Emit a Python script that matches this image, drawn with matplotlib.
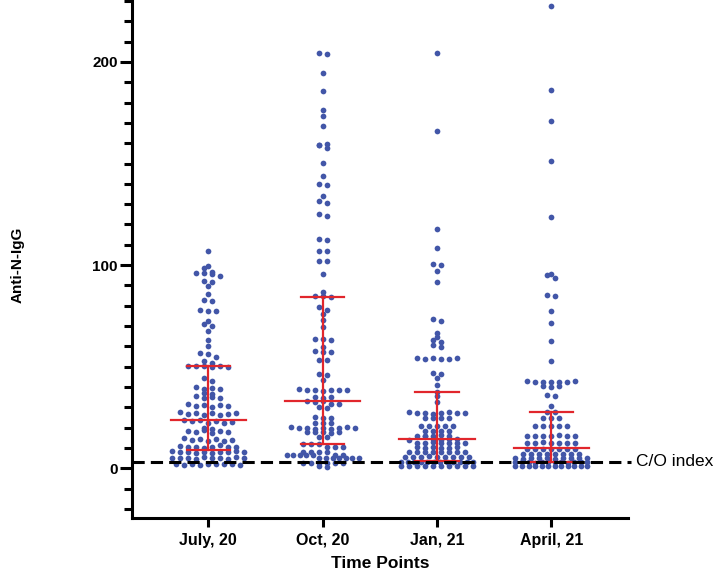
import numpy as np
import matplotlib
matplotlib.use("Agg")
import matplotlib.pyplot as plt
import matplotlib.transforms as mtransforms
from matplotlib.ticker import MultipleLocator, FixedLocator, NullLocator

plt.rcParams['font.family'] = ['Liberation Sans', 'DejaVu Sans']

# time points
groups = ['July, 20', 'Oct, 20', 'Jan, 21', 'April, 21']

# Anti-N-IgG values
july = [107, 99.8, 98.5, 96.8, 96.2, 95.9, 95.4, 94.6, 92.4, 91.6, 89.5, 86,
        82.6, 82.2, 78, 77.6, 77.2, 72.5, 71, 69.8, 67.8, 63.2, 60, 56.6, 56,
        55, 52.6, 51.8,
        50.4, 50.1, 50.3, 49.8, 50.2, 50.0,
        44.3, 43,
        39.8, 39.2, 39.5, 38.8, 37,
        35.5, 34.8, 35.2, 34.5, 36.5,
        31.5, 30.8, 31.2, 30.2, 31, 30.5,
        27.6, 26.5, 27.2, 26.3, 27, 26, 26.8, 27.4,
        23.9, 23.1, 23.6, 22.5, 23.4, 22.2, 22.8,
        19.6, 18.5, 19.2, 17.9, 18.8, 17.3, 18.2, 17.6,
        14.8, 13.8, 14.5, 13.2, 14.2, 13.5, 14,
        10.9, 10.3, 10.7, 10.1, 10.5, 11.2, 10.6, 10.4,
        8.3, 7.9, 8.2, 7.7, 8.1, 7.6, 8, 7.8, 8.4, 8.0,
        5.2, 4.8, 5.0, 4.6, 5.3, 4.9, 5.1, 4.7, 5.4, 5.0,
        2.1, 1.8, 2.3, 1.7, 2.0, 2.2, 1.9, 2.1, 1.8]

october = [204.4, 204.0, 194.5, 185.5, 176.3, 173.2, 168.5, 159.2, 159, 159.4,
           157.4, 150.2, 144.1, 139.8, 139.4, 133.8, 131.6, 130.5, 125, 124.3,
           112.8, 112.4, 107.1, 106.7, 102.2, 101.8, 95.7, 87, 84.9, 84.7, 84.5,
           79.5, 78, 76, 73.2, 69.6, 63.7, 63.5, 63.3, 59.7, 57.5, 57.3, 57.1,
           53.5, 53.1, 46.4, 46, 43.2,
           38.9, 38.3, 38.7, 38.1, 38.5, 38.6, 38.4,
           35.2, 34.8, 35,
           33.2, 32.8, 33,
           31.8, 31.6,
           30, 29.8,
           25, 24.6, 24.8,
           22.5, 22.1, 22.3,
           20.2, 19.7, 20, 19.5, 19.9, 19.4, 19.8, 20.1, 19.6,
           17.9, 17.6, 17.8, 17.5, 17.7,
           15.5, 15.3,
           12.1, 11.9, 12,
           10.7, 10.5, 10.6,
           8.2, 7.9, 8.1, 8,
           6.6, 6.4, 6.5, 6.6, 6.5, 6.4, 6.5,
           5, 4.8, 4.9, 5, 4.8, 4.9, 4.9,
           2.7, 2.5, 2.6, 2.7, 2.6, 2.5,
           0.9, 0.7]

january = [204.6, 166.2, 118, 108.2, 100.6, 100.2, 97.3, 91.6, 73.5, 72.5,
           66.6, 64.7, 63, 62, 60.7, 59.7,
           54.3, 53.9, 54.1, 53.8, 54, 54.2,
           47, 46.5, 44.5,
           41, 37.7, 35.5, 32.6,
           27.5, 27.1, 27.3, 26.9, 27.2, 27.6, 27, 27.4,
           24.8, 24.5, 24.7, 24.6,
           21, 20.7, 20.9, 20.6, 20.8,
           18.3, 18.1, 18.4, 18.2,
           16.1, 15.8, 16, 15.7, 16.2, 15.9,
           14.3, 14.1, 14.4, 14.2, 14.0,
           12.6, 12.4, 12.7, 12.3, 12.5, 12.6, 12.5,
           10.3, 10.1, 10.4, 10.2, 10.0, 10.3,
           8.2, 7.9, 8.1, 7.8, 8, 8.1, 8.2, 8,
           5.7, 5.5, 5.6, 5.8, 5.4, 5.7, 5.6, 5.5, 5.6,
           3.2, 3.0, 3.1, 3.3, 2.9, 3.2, 3.0, 3.1, 3.2, 3.0, 3.1, 3.1,
           1.2, 1.0, 1.1, 1.2, 0.9, 1.1, 1.0, 1.2, 1.1, 1.0]

april = [227.7, 186.3, 170.7, 151.2, 123.6, 95.7, 95.1, 93.5, 85.3, 84.6,
         77.5, 71.6, 62.7, 52.7,
         42.8, 42.4, 42.6, 42.3, 42.7, 42.5, 42.9,
         40.6, 40.2, 40.4,
         36.2, 35.8,
         30.7,
         27.8, 27.5,
         24.9, 24.6, 24.8,
         21, 20.7, 20.9, 20.6, 20.8,
         16.1, 15.8, 16, 15.7, 16.2, 15.9, 15.9,
         12.6, 12.4, 12.7, 12.3, 12.5, 12.6, 12.5,
         9.6, 9.4, 9.7, 9.5, 9.6, 9.4, 9.5,
         7.1, 6.9, 7.2, 7, 6.9, 7.1, 7, 7,
         4.9, 4.7, 5, 4.8, 4.9, 4.7, 4.8, 4.9, 4.8, 4.8,
         3.1, 2.9, 3.0, 2.8, 3.1, 3.0, 2.9, 3.1, 2.8, 3.0, 2.9, 3.0,
         1.1, 0.9, 1.2, 1.0, 1.1, 0.9, 1.2, 1.0, 1.1, 1.0, 0.9, 1.1]

series = [july, october, january, april]

# median with interquartile range
medians = [23.6, 33.0, 14.4, 9.8]
q1 = [9.0, 12.0, 3.7, 3.2]
q3 = [50.2, 84.5, 37.6, 27.6]
cutoff = 3.1

dot_color = '#4256a8'
red = '#e1262c'

fig = plt.figure(figsize=(7.14, 5.71), dpi=100)
ax = fig.add_axes([0.1845, 0.0928, 0.6951, 0.9072])
ax.set_xlim(-0.67, 3.67)
ax.set_ylim(-24.5, 230.5)


def swarm_x(vals, pos, gap=8.0, half=36.0, row_h=3.5):
    """spread points of one column in rows, like a scatter dot plot"""
    vals = np.asarray(vals, float)
    pts = ax.transData.transform(np.column_stack([np.full(len(vals), pos), vals]))
    ypx = pts[:, 1]
    order = np.argsort(ypx, kind='stable')
    rows = []
    for i in order:
        if rows and ypx[i] - ypx[rows[-1][0]] < row_h:
            rows[-1].append(i)
        else:
            rows.append([i])
    xoff = np.zeros(len(vals))
    for row in rows:
        row = sorted(row)
        n = len(row)
        step = gap if n < 2 else min(gap, 2 * half / (n - 1))
        for k, i in enumerate(row):
            xoff[i] = (k - (n - 1) / 2) * step
    pxu = ax.transData.transform((1, 0))[0] - ax.transData.transform((0, 0))[0]
    return pos + xoff / pxu


for g, vals in enumerate(series):
    xs = swarm_x(vals, g)
    ax.scatter(xs, vals, s=17, color=dot_color, linewidths=0, zorder=2, clip_on=False)
    # median and IQR
    ax.plot([g - 0.33, g + 0.33], [medians[g], medians[g]], color=red, lw=1.6, zorder=3)
    ax.plot([g - 0.19, g + 0.19], [q1[g], q1[g]], color=red, lw=1.6, zorder=3)
    ax.plot([g - 0.19, g + 0.19], [q3[g], q3[g]], color=red, lw=1.6, zorder=3)
    ax.plot([g, g], [q1[g], q3[g]], color=red, lw=1.6, zorder=3)

# cut-off line
trans = mtransforms.blended_transform_factory(ax.transAxes, ax.transData)
ax.plot([0, 1.006], [cutoff, cutoff], transform=trans, color='black', lw=2.2,
        ls=(0, (4, 2)), clip_on=False, zorder=4)
ax.text(1.016, cutoff, 'C/O index', transform=trans, ha='left', va='center',
        fontsize=12.5)

ax.xaxis.set_major_locator(FixedLocator(range(len(groups))))
ax.set_xticklabels(groups, fontsize=11.5, fontweight='bold')
ax.xaxis.set_minor_locator(NullLocator())
ax.yaxis.set_major_locator(FixedLocator([0, 100, 200]))
ax.yaxis.set_minor_locator(MultipleLocator(10))
for lab in ax.get_yticklabels():
    lab.set_fontweight('bold')
    lab.set_fontsize(11)

ax.tick_params(axis='y', which='major', length=8.4, width=2.2, pad=1.5)
ax.tick_params(axis='y', which='minor', length=5.5, width=2.2)
ax.tick_params(axis='x', which='major', length=6.5, width=2.2, pad=4)

for side in ['top', 'right']:
    ax.spines[side].set_visible(False)
for side in ['left', 'bottom']:
    ax.spines[side].set_linewidth(2.2)

fig.text(18 / 714, 1 - 265 / 571, 'Anti-N-IgG', rotation=90, ha='center',
         va='center', fontsize=11, fontweight='bold')
fig.text(380 / 714, 1 - 564 / 571, 'Time Points', ha='center', va='center',
         fontsize=12.5, fontweight='bold')

fig.savefig('out.png', dpi=100)
